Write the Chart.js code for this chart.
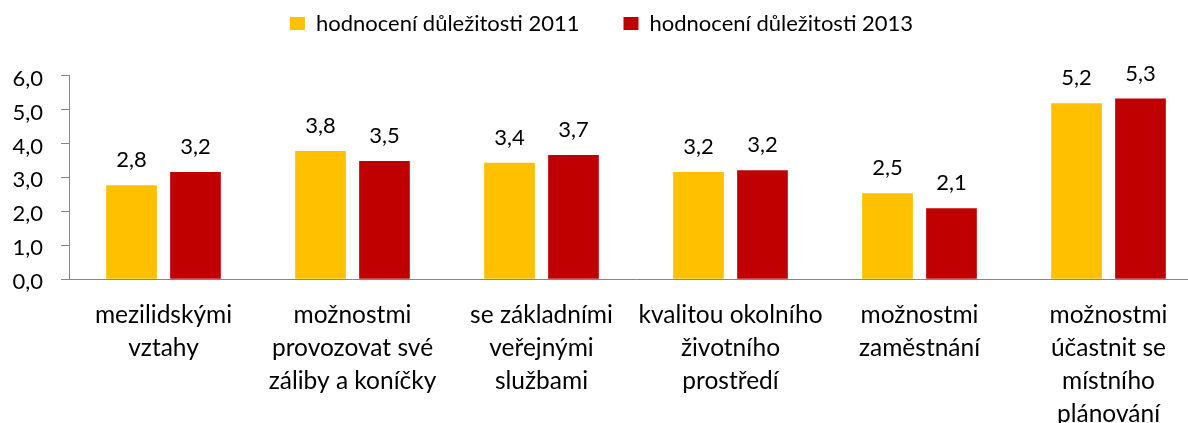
<!DOCTYPE html>
<html lang="cs">
<head>
<meta charset="utf-8">
<title>hodnocení důležitosti</title>
<script src="https://cdn.jsdelivr.net/npm/chart.js@4.4.1/dist/chart.umd.min.js"></script>
<style>
  html, body { margin: 0; padding: 0; background: #fff; overflow: hidden; }
  #wrap { width: 1203px; height: 423px; }
</style>
</head>
<body>
<div id="wrap"><canvas id="importanceChart" width="1203" height="423"></canvas></div>
<script>
// data
const categories = [
  ['mezilidskými', 'vztahy'],
  ['možnostmi', 'provozovat své', 'záliby a koníčky'],
  ['se základními', 'veřejnými', 'službami'],
  ['kvalitou okolního', 'životního', 'prostředí'],
  ['možnostmi', 'zaměstnání'],
  ['možnostmi', 'účastnit se', 'místního', 'plánování']
];
const seriesNames = ['hodnocení důležitosti 2011', 'hodnocení důležitosti 2013'];
const values2011 = [2.77, 3.78, 3.43, 3.16, 2.53, 5.18];
const values2013 = [3.16, 3.48, 3.66, 3.21, 2.09, 5.32];
const yTicks = [0, 1, 2, 3, 4, 5, 6];

const fmt = v => (Math.round(v * 10) / 10).toFixed(1).replace('.', ',');

Chart.defaults.font.family = 'Lato, "Open Sans", sans-serif';
Chart.defaults.color = '#000';

// value labels above bars
const valueLabels = {
  id: 'valueLabels',
  afterDatasetsDraw(chart) {
    const ctx = chart.ctx;
    ctx.save();
    ctx.font = '22px Lato, sans-serif';
    ctx.fillStyle = '#000';
    ctx.textAlign = 'center';
    ctx.textBaseline = 'alphabetic';
    chart.data.datasets.forEach((ds, i) => {
      chart.getDatasetMeta(i).data.forEach((bar, j) => {
        ctx.fillText(fmt(ds.data[j]), bar.x, bar.y - 18);
      });
    });
    ctx.restore();
  }
};

// extra room between legend and plot
const legendGap = {
  id: 'legendGap',
  beforeInit(chart) {
    const origFit = chart.legend.fit;
    chart.legend.fit = function () {
      origFit.bind(chart.legend)();
      this.height += 31;
    };
  }
};

let ctx = document.getElementById('importanceChart').getContext('2d');

let importanceChart = new Chart(ctx, {
  type: 'bar',
  data: {
    labels: categories,
    datasets: [{
      label: seriesNames[0],
      data: values2011,
      backgroundColor: '#FFC000',
      categoryPercentage: 0.677,
      barPercentage: 0.792
    }, {
      label: seriesNames[1],
      data: values2013,
      backgroundColor: '#C00000',
      categoryPercentage: 0.677,
      barPercentage: 0.792
    }]
  },
  options: {
    responsive: false,
    animation: false,
    devicePixelRatio: 1,
    layout: { padding: { top: -31.5, left: 0, right: 0, bottom: 0 } },
    plugins: {
      legend: {
        position: 'top',
        labels: {
          boxWidth: 15,
          boxHeight: 13,
          padding: 44,
          color: '#000',
          font: { size: 22 }
        }
      },
      tooltip: { enabled: false }
    },
    scales: {
      x: {
        grid: { display: false, drawTicks: false },
        border: { display: true, color: '#868686', width: 1 },
        ticks: {
          maxRotation: 0,
          autoSkip: false,
          padding: 19,
          color: '#000',
          font: { size: 24.5, lineHeight: 1.35 }
        },
        afterFit(scale) { scale.height = 143.7; }
      },
      y: {
        min: 0,
        max: 6,
        afterBuildTicks(scale) { scale.ticks = yTicks.map(v => ({ value: v })); },
        grid: { drawOnChartArea: false, drawTicks: true, tickLength: 8, color: '#868686' },
        border: { display: true, color: '#868686', width: 1 },
        ticks: {
          padding: 18,
          labelOffset: 3,
          color: '#000',
          font: { size: 22 },
          callback: v => fmt(v)
        },
        afterFit(scale) { scale.width = 69; }
      }
    }
  },
  plugins: [valueLabels, legendGap]
});
</script>
</body>
</html>
